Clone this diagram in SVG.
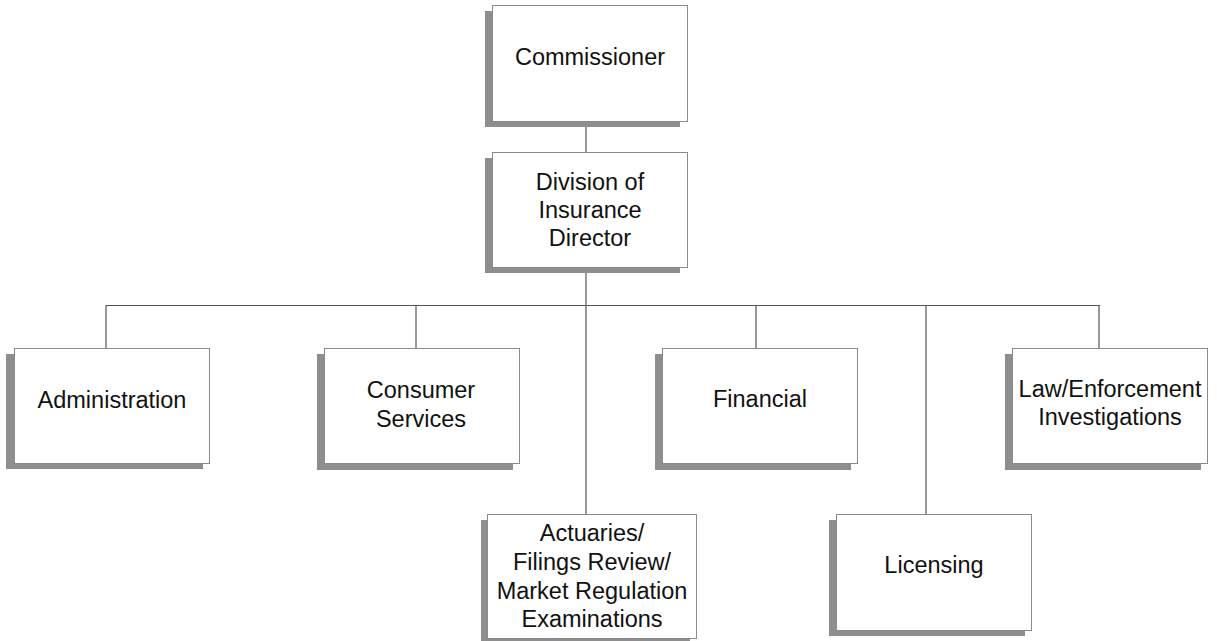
<svg xmlns="http://www.w3.org/2000/svg" width="1217" height="641" viewBox="0 0 1217 641">
<style>
.sh{fill:#8e8e8e}
.bx{fill:#fff;stroke:#8a8a8a;stroke-width:1}
.t{font-family:"Liberation Sans",Arial,sans-serif;font-size:23.5px;fill:#111;text-anchor:middle}
.ln{stroke:#555;stroke-width:1.2;fill:none}
</style>
<rect width="1217" height="641" fill="#fff"/>
<g id="connectors">
<line class="ln" x1="586" y1="121" x2="586" y2="152"/>
<line class="ln" x1="586" y1="267" x2="586" y2="514"/>
<line class="ln" x1="106" y1="305.5" x2="1100" y2="305.5"/>
<line class="ln" x1="106" y1="305" x2="106" y2="348"/>
<line class="ln" x1="416" y1="305" x2="416" y2="348"/>
<line class="ln" x1="756" y1="305" x2="756" y2="348"/>
<line class="ln" x1="926" y1="305" x2="926" y2="514"/>
<line class="ln" x1="1099" y1="305" x2="1099" y2="348"/>
</g>
<g id="commissioner">
<rect class="sh" x="485" y="11" width="195" height="116"/>
<rect class="bx" x="492.5" y="5.5" width="195" height="116"/>
<text class="t" x="590" y="65">Commissioner</text>
</g>
<g id="director">
<rect class="sh" x="485" y="158" width="195" height="115"/>
<rect class="bx" x="492.5" y="152.5" width="195" height="115"/>
<text class="t" x="590" y="190">Division of</text>
<text class="t" x="590" y="218">Insurance</text>
<text class="t" x="590" y="246">Director</text>
</g>
<g id="administration">
<rect class="sh" x="6" y="354" width="197" height="115"/>
<rect class="bx" x="14.5" y="348.5" width="195" height="115"/>
<text class="t" x="112" y="408">Administration</text>
</g>
<g id="consumer">
<rect class="sh" x="317" y="354" width="196" height="116"/>
<rect class="bx" x="324.5" y="348.5" width="195" height="115"/>
<text class="t" x="421" y="398">Consumer</text>
<text class="t" x="421" y="427">Services</text>
</g>
<g id="financial">
<rect class="sh" x="655" y="354" width="196" height="116"/>
<rect class="bx" x="662.5" y="348.5" width="195" height="115"/>
<text class="t" x="760" y="407">Financial</text>
</g>
<g id="law">
<rect class="sh" x="1005" y="354" width="196" height="116"/>
<rect class="bx" x="1012.5" y="348.5" width="195" height="115"/>
<text class="t" x="1110" y="397">Law/Enforcement</text>
<text class="t" x="1110" y="425">Investigations</text>
</g>
<g id="actuaries">
<rect class="sh" x="481" y="520" width="209" height="124"/>
<rect class="bx" x="487.5" y="514.5" width="209" height="124"/>
<text class="t" x="592" y="541">Actuaries/</text>
<text class="t" x="592" y="570">Filings Review/</text>
<text class="t" x="592" y="599">Market Regulation</text>
<text class="t" x="592" y="627">Examinations</text>
</g>
<g id="licensing">
<rect class="sh" x="829" y="520" width="196" height="116"/>
<rect class="bx" x="836.5" y="514.5" width="195" height="116"/>
<text class="t" x="934" y="573">Licensing</text>
</g>
</svg>
